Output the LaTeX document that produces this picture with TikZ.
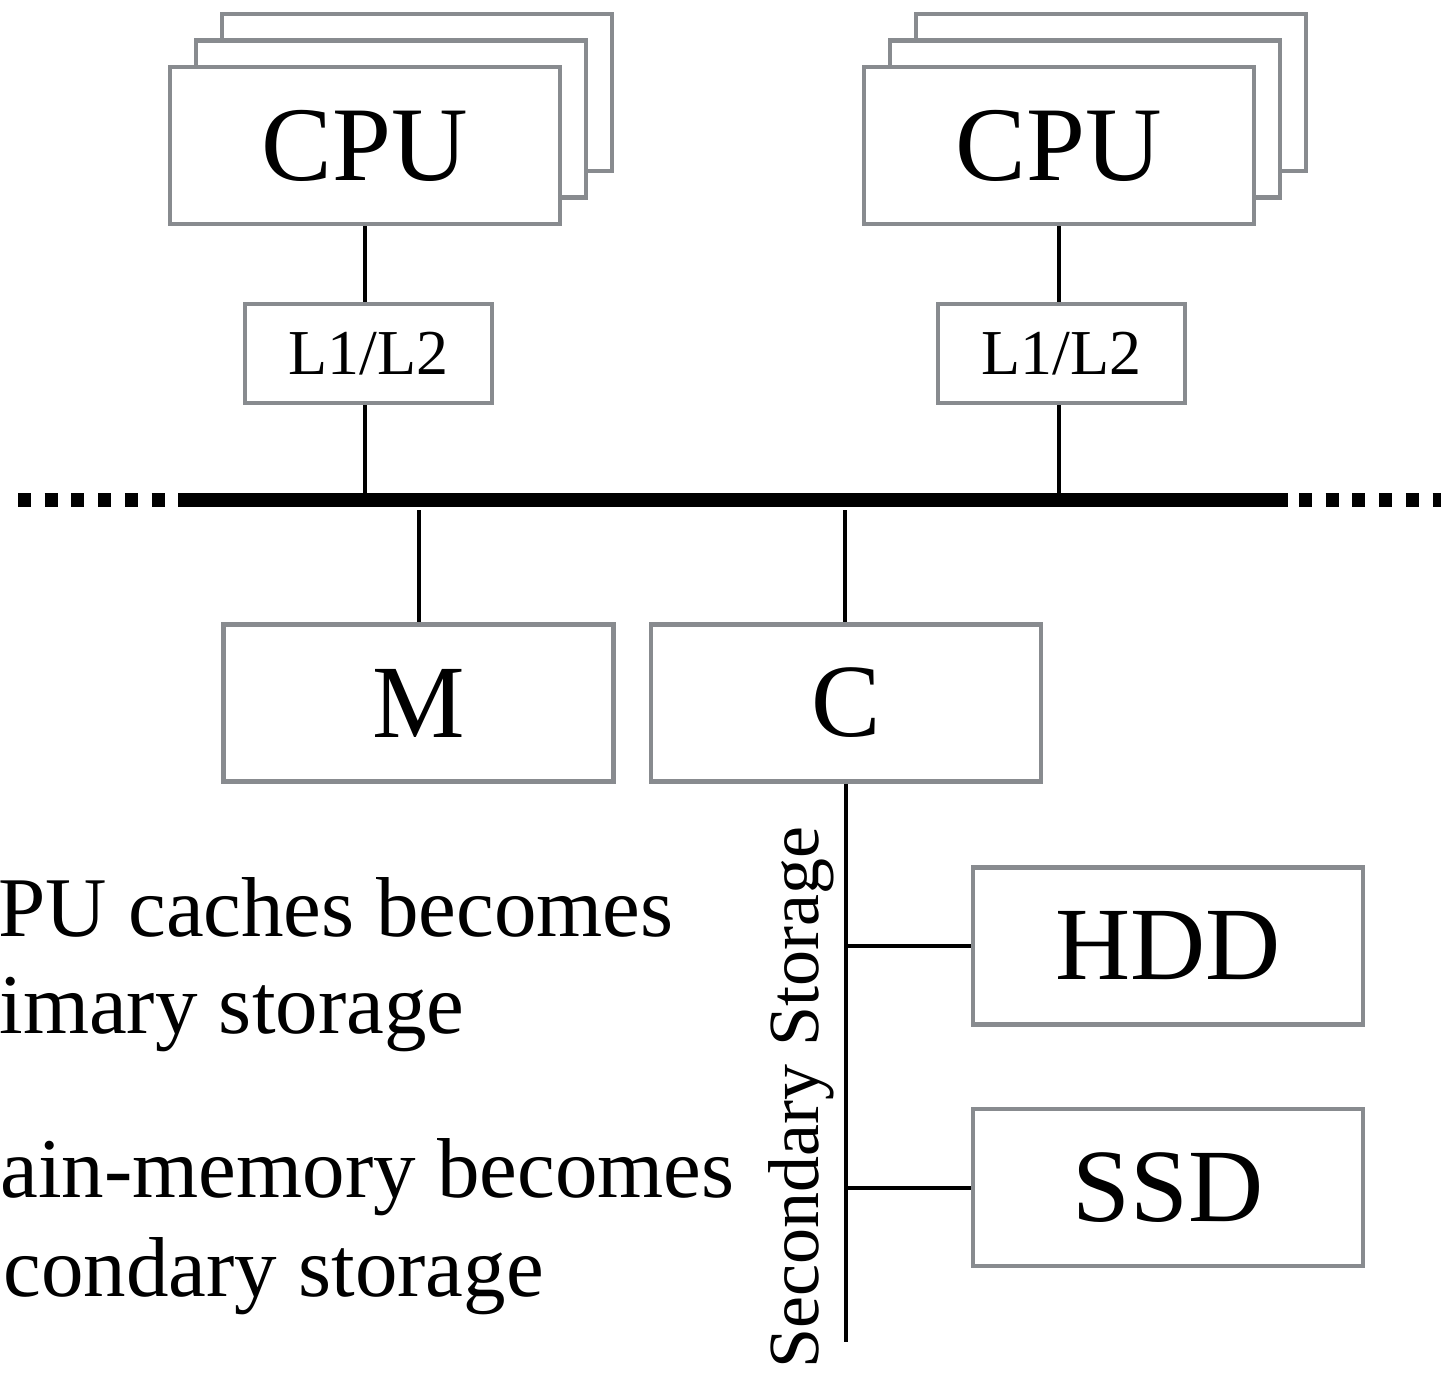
\documentclass[tikz,border=0pt]{standalone}
\usepackage{fontspec}
\setmainfont{Liberation Serif}
\begin{document}
\begin{tikzpicture}[x=0.5pt,y=-0.5pt,
  unit/.style={draw=boxgray,line width=2.25pt,fill=white,inner sep=0pt,
    minimum width=195pt,minimum height=78.5pt,
    font=\fontsize{52pt}{60pt}\selectfont},
  cachebox/.style={draw=boxgray,line width=2.25pt,fill=white,inner sep=0pt,
    minimum width=123.5pt,minimum height=49.5pt,
    font=\fontsize{32pt}{38pt}\selectfont},
  wire/.style={line width=2pt,black},
  busline/.style={line width=7pt,black,line cap=butt},
  busdots/.style={line width=7pt,black,line cap=butt,dash pattern=on 6.5pt off 6.85pt},
  note/.style={anchor=base west,inner sep=0pt,font=\fontsize{42.5pt}{48pt}\selectfont},
]
\definecolor{boxgray}{RGB}{136,139,143}
\useasboundingbox (0,0) rectangle (1441,1381);
\clip (0,0) rectangle (1441,1381);

% CPU stacks (two shadow cards behind each front card)
\foreach \cx/\nm in {365/cpuA,1059/cpuB}{
  \node[unit] (\nm3) at (\cx+52,92.5) {};
  \node[unit] (\nm2) at (\cx+26,119) {};
}
\node[unit,font=\fontsize{53pt}{60pt}\selectfont] (cpuA) at (365,145.5) {CPU};
\node[unit,font=\fontsize{53pt}{60pt}\selectfont] (cpuB) at (1059,145.5) {CPU};

% private caches
\node[cachebox] (cacheA) at (368.5,353.5) {L1/L2};
\node[cachebox] (cacheB) at (1061.5,353.5) {L1/L2};

% system bus
\coordinate (busL) at (180,500);
\coordinate (busR) at (1288,500);
\coordinate (dotsL) at (18,500);
\coordinate (dotsR) at (1299,500);
\coordinate (dotsEnd) at (1460,500);
\draw[busline] (busL) -- (busR);
\draw[busdots] (dotsL) -- (busL);
\draw[busdots] (dotsR) -- (dotsEnd);

% memory and controller
\node[unit] (mem) at (418.5,703) {M};
\node[unit] (ctrl) at (846,703) {C};

% secondary storage devices
\node[unit] (hdd) at (1168,946) {HDD};
\node[unit] (ssd) at (1168,1187.5) {SSD};

% connectors CPU -> cache -> bus
\draw[wire] (cpuA.south) -- (cpuA.south |- cacheA.north);
\draw[wire] (cpuA.south |- cacheA.south) -- (cpuA.south |- busL);
\draw[wire] (cpuB.south) -- (cpuB.south |- cacheB.north);
\draw[wire] (cpuB.south |- cacheB.south) -- (cpuB.south |- busL);

% bus -> memory / controller
\coordinate (tapM) at (419,510);
\coordinate (tapC) at (845,510);
\draw[wire] (tapM) -- (tapM |- mem.north);
\draw[wire] (tapC) -- (tapC |- ctrl.north);

% storage trunk
\coordinate (trunkEnd) at (846,1342);
\draw[wire] (ctrl.south) -- (trunkEnd);
\draw[wire] (ctrl.south |- hdd.west) -- (hdd.west);
\draw[wire] (ctrl.south |- ssd.west) -- (ssd.west);

\node[anchor=base east,rotate=90,inner sep=0pt,
  font=\fontsize{36pt}{42pt}\selectfont] (seclabel) at (818,826) {Secondary Storage};

% notes
\node[note] (n1) at (-2,936) {PU caches becomes};
\node[note] (n2) at (-1,1033) {imary storage};
\node[note] (n3) at (0,1197) {ain-memory becomes};
\node[note] (n4) at (3,1296) {condary storage};
\end{tikzpicture}
\end{document}
